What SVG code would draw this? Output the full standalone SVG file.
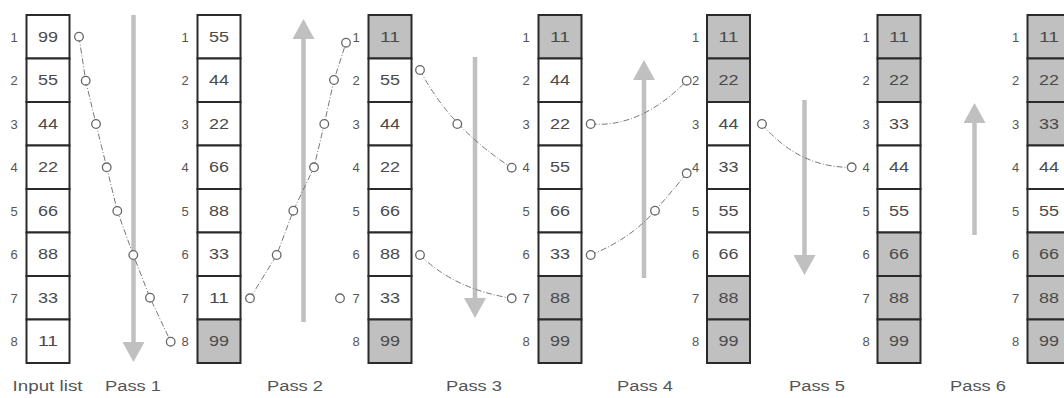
<svg xmlns="http://www.w3.org/2000/svg" width="1064" height="398" viewBox="0 0 1064 398">
<defs>
<style>
.w{fill:#ffffff;stroke:#2a2a2a;stroke-width:2}
.g{fill:#c0c0c0;stroke:#2a2a2a;stroke-width:2}
.n{font-family:"Liberation Sans",Arial,sans-serif;font-size:14px;fill:#4a4a4a;text-anchor:middle}
.r{font-family:"Liberation Sans",Arial,sans-serif;font-size:13px;fill:#555;text-anchor:middle}
.lbl{font-family:"Liberation Sans",Arial,sans-serif;font-size:14px;fill:#555;text-anchor:middle}
.arr{stroke:#c0c0c0;stroke-width:4.5;fill:none;marker-end:url(#head)}
.con{stroke:#777;stroke-width:1;fill:none;stroke-dasharray:6,2,1,2}
.dot{fill:#fff;stroke:#666;stroke-width:1.3}
</style>
<marker id="head" markerUnits="userSpaceOnUse" markerWidth="20" markerHeight="22" viewBox="0 0 20 22" refX="2" refY="11" orient="auto">
<path d="M0,0 L20,11 L0,22 z" fill="#c0c0c0"/>
</marker>
</defs>
<rect width="1064" height="398" fill="#fff"/>

<g id="col-input">
<rect class="w" x="26.5" y="15" width="43" height="43.5"/><rect class="w" x="26.5" y="58.5" width="43" height="43.5"/><rect class="w" x="26.5" y="102" width="43" height="43.5"/><rect class="w" x="26.5" y="145.5" width="43" height="43.5"/><rect class="w" x="26.5" y="189" width="43" height="43.5"/><rect class="w" x="26.5" y="232.5" width="43" height="43.5"/><rect class="w" x="26.5" y="276" width="43" height="43.5"/><rect class="w" x="26.5" y="319.5" width="43" height="43.5"/>
<text class="n" x="48" y="41.75" textLength="20" lengthAdjust="spacingAndGlyphs">99</text><text class="n" x="48" y="85.25" textLength="20" lengthAdjust="spacingAndGlyphs">55</text><text class="n" x="48" y="128.75" textLength="20" lengthAdjust="spacingAndGlyphs">44</text><text class="n" x="48" y="172.25" textLength="20" lengthAdjust="spacingAndGlyphs">22</text><text class="n" x="48" y="215.75" textLength="20" lengthAdjust="spacingAndGlyphs">66</text><text class="n" x="48" y="259.25" textLength="20" lengthAdjust="spacingAndGlyphs">88</text><text class="n" x="48" y="302.75" textLength="20" lengthAdjust="spacingAndGlyphs">33</text><text class="n" x="48" y="346.25" textLength="20" lengthAdjust="spacingAndGlyphs">11</text>
<text class="r" x="14" y="41.75">1</text><text class="r" x="14" y="85.25">2</text><text class="r" x="14" y="128.75">3</text><text class="r" x="14" y="172.25">4</text><text class="r" x="14" y="215.75">5</text><text class="r" x="14" y="259.25">6</text><text class="r" x="14" y="302.75">7</text><text class="r" x="14" y="346.25">8</text>
</g>

<g id="col-pass1">
<rect class="w" x="197.5" y="15" width="43" height="43.5"/><rect class="w" x="197.5" y="58.5" width="43" height="43.5"/><rect class="w" x="197.5" y="102" width="43" height="43.5"/><rect class="w" x="197.5" y="145.5" width="43" height="43.5"/><rect class="w" x="197.5" y="189" width="43" height="43.5"/><rect class="w" x="197.5" y="232.5" width="43" height="43.5"/><rect class="w" x="197.5" y="276" width="43" height="43.5"/><rect class="g" x="197.5" y="319.5" width="43" height="43.5"/>
<text class="n" x="219" y="41.75" textLength="20" lengthAdjust="spacingAndGlyphs">55</text><text class="n" x="219" y="85.25" textLength="20" lengthAdjust="spacingAndGlyphs">44</text><text class="n" x="219" y="128.75" textLength="20" lengthAdjust="spacingAndGlyphs">22</text><text class="n" x="219" y="172.25" textLength="20" lengthAdjust="spacingAndGlyphs">66</text><text class="n" x="219" y="215.75" textLength="20" lengthAdjust="spacingAndGlyphs">88</text><text class="n" x="219" y="259.25" textLength="20" lengthAdjust="spacingAndGlyphs">33</text><text class="n" x="219" y="302.75" textLength="20" lengthAdjust="spacingAndGlyphs">11</text><text class="n" x="219" y="346.25" textLength="20" lengthAdjust="spacingAndGlyphs">99</text>
<text class="r" x="185" y="41.75">1</text><text class="r" x="185" y="85.25">2</text><text class="r" x="185" y="128.75">3</text><text class="r" x="185" y="172.25">4</text><text class="r" x="185" y="215.75">5</text><text class="r" x="185" y="259.25">6</text><text class="r" x="185" y="302.75">7</text><text class="r" x="185" y="346.25">8</text>
</g>

<g id="col-pass2">
<rect class="g" x="368.5" y="15" width="43" height="43.5"/><rect class="w" x="368.5" y="58.5" width="43" height="43.5"/><rect class="w" x="368.5" y="102" width="43" height="43.5"/><rect class="w" x="368.5" y="145.5" width="43" height="43.5"/><rect class="w" x="368.5" y="189" width="43" height="43.5"/><rect class="w" x="368.5" y="232.5" width="43" height="43.5"/><rect class="w" x="368.5" y="276" width="43" height="43.5"/><rect class="g" x="368.5" y="319.5" width="43" height="43.5"/>
<text class="n" x="390" y="41.75" textLength="20" lengthAdjust="spacingAndGlyphs">11</text><text class="n" x="390" y="85.25" textLength="20" lengthAdjust="spacingAndGlyphs">55</text><text class="n" x="390" y="128.75" textLength="20" lengthAdjust="spacingAndGlyphs">44</text><text class="n" x="390" y="172.25" textLength="20" lengthAdjust="spacingAndGlyphs">22</text><text class="n" x="390" y="215.75" textLength="20" lengthAdjust="spacingAndGlyphs">66</text><text class="n" x="390" y="259.25" textLength="20" lengthAdjust="spacingAndGlyphs">88</text><text class="n" x="390" y="302.75" textLength="20" lengthAdjust="spacingAndGlyphs">33</text><text class="n" x="390" y="346.25" textLength="20" lengthAdjust="spacingAndGlyphs">99</text>
<text class="r" x="356" y="41.75">1</text><text class="r" x="356" y="85.25">2</text><text class="r" x="356" y="128.75">3</text><text class="r" x="356" y="172.25">4</text><text class="r" x="356" y="215.75">5</text><text class="r" x="356" y="259.25">6</text><text class="r" x="356" y="302.75">7</text><text class="r" x="356" y="346.25">8</text>
</g>

<g id="col-pass3">
<rect class="g" x="538.5" y="15" width="43" height="43.5"/><rect class="w" x="538.5" y="58.5" width="43" height="43.5"/><rect class="w" x="538.5" y="102" width="43" height="43.5"/><rect class="w" x="538.5" y="145.5" width="43" height="43.5"/><rect class="w" x="538.5" y="189" width="43" height="43.5"/><rect class="w" x="538.5" y="232.5" width="43" height="43.5"/><rect class="g" x="538.5" y="276" width="43" height="43.5"/><rect class="g" x="538.5" y="319.5" width="43" height="43.5"/>
<text class="n" x="560" y="41.75" textLength="20" lengthAdjust="spacingAndGlyphs">11</text><text class="n" x="560" y="85.25" textLength="20" lengthAdjust="spacingAndGlyphs">44</text><text class="n" x="560" y="128.75" textLength="20" lengthAdjust="spacingAndGlyphs">22</text><text class="n" x="560" y="172.25" textLength="20" lengthAdjust="spacingAndGlyphs">55</text><text class="n" x="560" y="215.75" textLength="20" lengthAdjust="spacingAndGlyphs">66</text><text class="n" x="560" y="259.25" textLength="20" lengthAdjust="spacingAndGlyphs">33</text><text class="n" x="560" y="302.75" textLength="20" lengthAdjust="spacingAndGlyphs">88</text><text class="n" x="560" y="346.25" textLength="20" lengthAdjust="spacingAndGlyphs">99</text>
<text class="r" x="526" y="41.75">1</text><text class="r" x="526" y="85.25">2</text><text class="r" x="526" y="128.75">3</text><text class="r" x="526" y="172.25">4</text><text class="r" x="526" y="215.75">5</text><text class="r" x="526" y="259.25">6</text><text class="r" x="526" y="302.75">7</text><text class="r" x="526" y="346.25">8</text>
</g>

<g id="col-pass4">
<rect class="g" x="707" y="15" width="43" height="43.5"/><rect class="g" x="707" y="58.5" width="43" height="43.5"/><rect class="w" x="707" y="102" width="43" height="43.5"/><rect class="w" x="707" y="145.5" width="43" height="43.5"/><rect class="w" x="707" y="189" width="43" height="43.5"/><rect class="w" x="707" y="232.5" width="43" height="43.5"/><rect class="g" x="707" y="276" width="43" height="43.5"/><rect class="g" x="707" y="319.5" width="43" height="43.5"/>
<text class="n" x="728.5" y="41.75" textLength="20" lengthAdjust="spacingAndGlyphs">11</text><text class="n" x="728.5" y="85.25" textLength="20" lengthAdjust="spacingAndGlyphs">22</text><text class="n" x="728.5" y="128.75" textLength="20" lengthAdjust="spacingAndGlyphs">44</text><text class="n" x="728.5" y="172.25" textLength="20" lengthAdjust="spacingAndGlyphs">33</text><text class="n" x="728.5" y="215.75" textLength="20" lengthAdjust="spacingAndGlyphs">55</text><text class="n" x="728.5" y="259.25" textLength="20" lengthAdjust="spacingAndGlyphs">66</text><text class="n" x="728.5" y="302.75" textLength="20" lengthAdjust="spacingAndGlyphs">88</text><text class="n" x="728.5" y="346.25" textLength="20" lengthAdjust="spacingAndGlyphs">99</text>
<text class="r" x="695.5" y="41.75">1</text><text class="r" x="695.5" y="85.25">2</text><text class="r" x="695.5" y="128.75">3</text><text class="r" x="695.5" y="172.25">4</text><text class="r" x="695.5" y="215.75">5</text><text class="r" x="695.5" y="259.25">6</text><text class="r" x="695.5" y="302.75">7</text><text class="r" x="695.5" y="346.25">8</text>
</g>

<g id="col-pass5">
<rect class="g" x="877.5" y="15" width="43" height="43.5"/><rect class="g" x="877.5" y="58.5" width="43" height="43.5"/><rect class="w" x="877.5" y="102" width="43" height="43.5"/><rect class="w" x="877.5" y="145.5" width="43" height="43.5"/><rect class="w" x="877.5" y="189" width="43" height="43.5"/><rect class="g" x="877.5" y="232.5" width="43" height="43.5"/><rect class="g" x="877.5" y="276" width="43" height="43.5"/><rect class="g" x="877.5" y="319.5" width="43" height="43.5"/>
<text class="n" x="899" y="41.75" textLength="20" lengthAdjust="spacingAndGlyphs">11</text><text class="n" x="899" y="85.25" textLength="20" lengthAdjust="spacingAndGlyphs">22</text><text class="n" x="899" y="128.75" textLength="20" lengthAdjust="spacingAndGlyphs">33</text><text class="n" x="899" y="172.25" textLength="20" lengthAdjust="spacingAndGlyphs">44</text><text class="n" x="899" y="215.75" textLength="20" lengthAdjust="spacingAndGlyphs">55</text><text class="n" x="899" y="259.25" textLength="20" lengthAdjust="spacingAndGlyphs">66</text><text class="n" x="899" y="302.75" textLength="20" lengthAdjust="spacingAndGlyphs">88</text><text class="n" x="899" y="346.25" textLength="20" lengthAdjust="spacingAndGlyphs">99</text>
<text class="r" x="866" y="41.75">1</text><text class="r" x="866" y="85.25">2</text><text class="r" x="866" y="128.75">3</text><text class="r" x="866" y="172.25">4</text><text class="r" x="866" y="215.75">5</text><text class="r" x="866" y="259.25">6</text><text class="r" x="866" y="302.75">7</text><text class="r" x="866" y="346.25">8</text>
</g>

<g id="col-pass6">
<rect class="g" x="1027.5" y="15" width="43" height="43.5"/><rect class="g" x="1027.5" y="58.5" width="43" height="43.5"/><rect class="g" x="1027.5" y="102" width="43" height="43.5"/><rect class="w" x="1027.5" y="145.5" width="43" height="43.5"/><rect class="w" x="1027.5" y="189" width="43" height="43.5"/><rect class="g" x="1027.5" y="232.5" width="43" height="43.5"/><rect class="g" x="1027.5" y="276" width="43" height="43.5"/><rect class="g" x="1027.5" y="319.5" width="43" height="43.5"/>
<text class="n" x="1049" y="41.75" textLength="20" lengthAdjust="spacingAndGlyphs">11</text><text class="n" x="1049" y="85.25" textLength="20" lengthAdjust="spacingAndGlyphs">22</text><text class="n" x="1049" y="128.75" textLength="20" lengthAdjust="spacingAndGlyphs">33</text><text class="n" x="1049" y="172.25" textLength="20" lengthAdjust="spacingAndGlyphs">44</text><text class="n" x="1049" y="215.75" textLength="20" lengthAdjust="spacingAndGlyphs">55</text><text class="n" x="1049" y="259.25" textLength="20" lengthAdjust="spacingAndGlyphs">66</text><text class="n" x="1049" y="302.75" textLength="20" lengthAdjust="spacingAndGlyphs">88</text><text class="n" x="1049" y="346.25" textLength="20" lengthAdjust="spacingAndGlyphs">99</text>
<text class="r" x="1015.5" y="41.75">1</text><text class="r" x="1015.5" y="85.25">2</text><text class="r" x="1015.5" y="128.75">3</text><text class="r" x="1015.5" y="172.25">4</text><text class="r" x="1015.5" y="215.75">5</text><text class="r" x="1015.5" y="259.25">6</text><text class="r" x="1015.5" y="302.75">7</text><text class="r" x="1015.5" y="346.25">8</text>
</g>

<g id="direction-arrows">
<line class="arr" x1="133.5" y1="15" x2="133.5" y2="344"/>
<line class="arr" x1="303.5" y1="322" x2="303.5" y2="37"/>
<line class="arr" x1="475" y1="57" x2="475" y2="300"/>
<line class="arr" x1="644" y1="278" x2="644" y2="78"/>
<line class="arr" x1="804.5" y1="100" x2="804.5" y2="257"/>
<line class="arr" x1="974.5" y1="235" x2="974.5" y2="121"/>
</g>

<g id="connectors">
<polyline class="con" points="79,36.7 85.7,80.7 96,124 106.7,167.3 117.3,211 133.3,255 150,297.7 170.7,341.7"/>
<polyline class="con" points="250,298.3 276.7,255 293.3,210.7 314,167.3 324.3,124 334,80 346,42.7"/>
<path class="con" d="M420,70 Q450,128 511.7,167.7"/>
<path class="con" d="M420,255 Q454,289 511.7,298.3"/>
<path class="con" d="M590.7,124 Q641,128 686.7,80.7"/>
<path class="con" d="M590.7,255 C620,243 640,228 655,210.7 C668,196 678,184 686.7,173.3"/>
<path class="con" d="M762,124 Q799,168 851.7,167.3"/>
<g>
<circle class="dot" cx="79" cy="36.7" r="4.3"/><circle class="dot" cx="85.7" cy="80.7" r="4.3"/><circle class="dot" cx="96" cy="124" r="4.3"/><circle class="dot" cx="106.7" cy="167.3" r="4.3"/><circle class="dot" cx="117.3" cy="211" r="4.3"/><circle class="dot" cx="133.3" cy="255" r="4.3"/><circle class="dot" cx="150" cy="297.7" r="4.3"/><circle class="dot" cx="170.7" cy="341.7" r="4.3"/>
<circle class="dot" cx="250" cy="298.3" r="4.3"/><circle class="dot" cx="276.7" cy="255" r="4.3"/><circle class="dot" cx="293.3" cy="210.7" r="4.3"/><circle class="dot" cx="314" cy="167.3" r="4.3"/><circle class="dot" cx="324.3" cy="124" r="4.3"/><circle class="dot" cx="334" cy="80" r="4.3"/><circle class="dot" cx="346" cy="42.7" r="4.3"/><circle class="dot" cx="340" cy="298.3" r="4.3"/>
<circle class="dot" cx="420" cy="70" r="4.3"/><circle class="dot" cx="457.3" cy="124" r="4.3"/><circle class="dot" cx="511.7" cy="167.7" r="4.3"/><circle class="dot" cx="420" cy="255" r="4.3"/><circle class="dot" cx="511.7" cy="298.3" r="4.3"/>
<circle class="dot" cx="590.7" cy="124" r="4.3"/><circle class="dot" cx="686.7" cy="80.7" r="4.3"/><circle class="dot" cx="590.7" cy="255" r="4.3"/><circle class="dot" cx="655" cy="210.7" r="4.3"/><circle class="dot" cx="686.7" cy="173.3" r="4.3"/>
<circle class="dot" cx="762" cy="124" r="4.3"/><circle class="dot" cx="851.7" cy="167.3" r="4.3"/>
</g>
</g>

<g id="labels">
<text class="lbl" x="47.5" y="391" textLength="70" lengthAdjust="spacingAndGlyphs">Input list</text>
<text class="lbl" x="133" y="391" textLength="56" lengthAdjust="spacingAndGlyphs">Pass 1</text>
<text class="lbl" x="295" y="391" textLength="56" lengthAdjust="spacingAndGlyphs">Pass 2</text>
<text class="lbl" x="474" y="391" textLength="56" lengthAdjust="spacingAndGlyphs">Pass 3</text>
<text class="lbl" x="645" y="391" textLength="56" lengthAdjust="spacingAndGlyphs">Pass 4</text>
<text class="lbl" x="817" y="391" textLength="56" lengthAdjust="spacingAndGlyphs">Pass 5</text>
<text class="lbl" x="978" y="391" textLength="56" lengthAdjust="spacingAndGlyphs">Pass 6</text>
</g>
</svg>
